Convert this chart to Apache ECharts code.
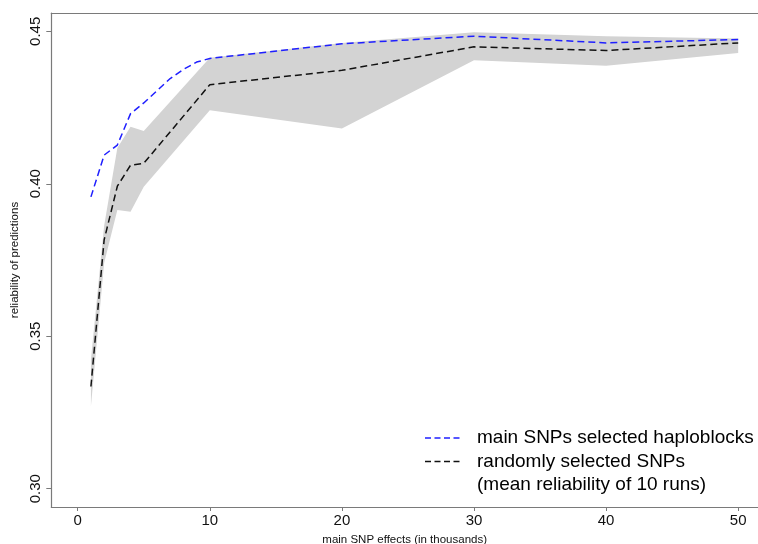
<!DOCTYPE html>
<html>
<head>
<meta charset="utf-8">
<script src="https://cdn.jsdelivr.net/npm/echarts@6/dist/echarts.min.js"></script>
<style>
html,body{margin:0;padding:0;background:#fff;}
#chart{width:758px;height:544px;}
</style>
</head>
<body>
<div id="chart"></div>
<script>
// ---- data ----
const hapX = [1, 2, 3, 4, 5, 6, 7, 8, 9, 10, 20, 30, 40, 50];
const hapValues = [0.3957, 0.4094, 0.4127, 0.4230, 0.4265, 0.4305, 0.4345, 0.4375, 0.4399, 0.4411, 0.4459, 0.4484, 0.4462, 0.4473];

const randX = [1, 2, 3, 4, 5, 10, 20, 30, 40, 50];
const randMean = [0.3335, 0.3816, 0.3992, 0.4061, 0.4067, 0.4325, 0.4372, 0.4449, 0.4437, 0.4462];
const randLower = [0.3270, 0.3740, 0.3914, 0.3908, 0.3990, 0.4241, 0.4181, 0.4405, 0.4387, 0.4429];
const randUpper = [0.3423, 0.3862, 0.4117, 0.4187, 0.4173, 0.4413, 0.4462, 0.4497, 0.4484, 0.4476];

const xTicks = [0, 10, 20, 30, 40, 50];
const yTicks = [0.30, 0.35, 0.40, 0.45];

const legendNames = ['main SNPs selected haploblocks', 'randomly selected SNPs', '(mean reliability of 10 runs)'];
const xTitle = 'main SNP effects (in thousands)';
const yTitle = 'reliability of predictions';

// ---- chart ----
const FONT = '"Liberation Sans", Arial, sans-serif';
const AXIS_COLOR = '#7a7a7a';
const chart = echarts.init(document.getElementById('chart'), null, {renderer: 'canvas'});

const option = {
  animation: false,
  backgroundColor: '#ffffff',
  grid: {left: 51.3, right: 0, top: 13, bottom: 37, show: false, containLabel: false, outerBoundsMode: 'none'},
  xAxis: [
    {
      type: 'value', min: -2, max: 51.5,
      splitLine: {show: false},
      axisLine: {show: true, onZero: false, lineStyle: {color: AXIS_COLOR, width: 1.2}},
      axisTick: {show: true, length: 4, customValues: xTicks, lineStyle: {color: AXIS_COLOR, width: 1}},
      axisLabel: {customValues: xTicks, margin: 6, fontSize: 15, fontFamily: FONT, color: '#111'},
      name: xTitle, nameLocation: 'middle', nameGap: 27,
      nameTextStyle: {fontSize: 11.5, fontFamily: FONT, color: '#111'}
    },
    {
      type: 'value', position: 'top', min: -2, max: 51.5,
      splitLine: {show: false},
      axisLine: {show: true, onZero: false, lineStyle: {color: AXIS_COLOR, width: 1.2}},
      axisTick: {show: false},
      axisLabel: {show: false}
    }
  ],
  yAxis: {
    type: 'value', min: 0.294, max: 0.456,
    splitLine: {show: false},
    axisLine: {show: true, onZero: false, lineStyle: {color: AXIS_COLOR, width: 1.2}},
    axisTick: {show: true, length: 5, customValues: yTicks, lineStyle: {color: AXIS_COLOR, width: 1}},
    axisLabel: {customValues: yTicks, rotate: 90, margin: 8, fontSize: 15, fontFamily: FONT, color: '#111',
      formatter: v => v.toFixed(2)},
    name: yTitle, nameLocation: 'middle', nameGap: 30,
    nameTextStyle: {fontSize: 11.5, fontFamily: FONT, color: '#111'}
  },
  series: [
    {
      type: 'custom',
      silent: true,
      z: 1,
      data: randX.map((x, i) => [x, randLower[i], randUpper[i]]),
      encode: {x: 0, y: [1, 2]},
      renderItem: function (params, api) {
        if (params.dataIndex !== 0) return null;
        const pts = [];
        for (let i = 0; i < randX.length; i++) pts.push(api.coord([randX[i], randUpper[i]]));
        for (let i = randX.length - 1; i >= 0; i--) pts.push(api.coord([randX[i], randLower[i]]));
        return {type: 'polygon', shape: {points: pts}, style: {fill: '#d3d3d3', stroke: null}};
      }
    },
    {
      type: 'line', name: legendNames[1], z: 3,
      data: randX.map((x, i) => [x, randMean[i]]),
      symbol: 'none',
      lineStyle: {color: '#111', width: 1.5, type: [7, 4]}
    },
    {
      type: 'line', name: legendNames[0], z: 4,
      data: hapX.map((x, i) => [x, hapValues[i]]),
      symbol: 'none',
      lineStyle: {color: '#1f1fff', width: 1.5, type: [7, 4]}
    }
  ],
  graphic: [
    {type: 'line', shape: {x1: 425, y1: 438, x2: 461, y2: 438}, style: {stroke: '#1f1fff', lineWidth: 1.5, lineDash: [6, 3.5]}},
    {type: 'text', x: 477, y: 438, style: {text: legendNames[0], font: '19px ' + FONT, fill: '#000', verticalAlign: 'middle'}},
    {type: 'line', shape: {x1: 425, y1: 461.5, x2: 461, y2: 461.5}, style: {stroke: '#111', lineWidth: 1.5, lineDash: [6, 3.5]}},
    {type: 'text', x: 477, y: 461.5, style: {text: legendNames[1], font: '19px ' + FONT, fill: '#000', verticalAlign: 'middle'}},
    {type: 'text', x: 477, y: 484.5, style: {text: legendNames[2], font: '19px ' + FONT, fill: '#000', verticalAlign: 'middle'}}
  ]
};
chart.setOption(option);
</script>
</body>
</html>
